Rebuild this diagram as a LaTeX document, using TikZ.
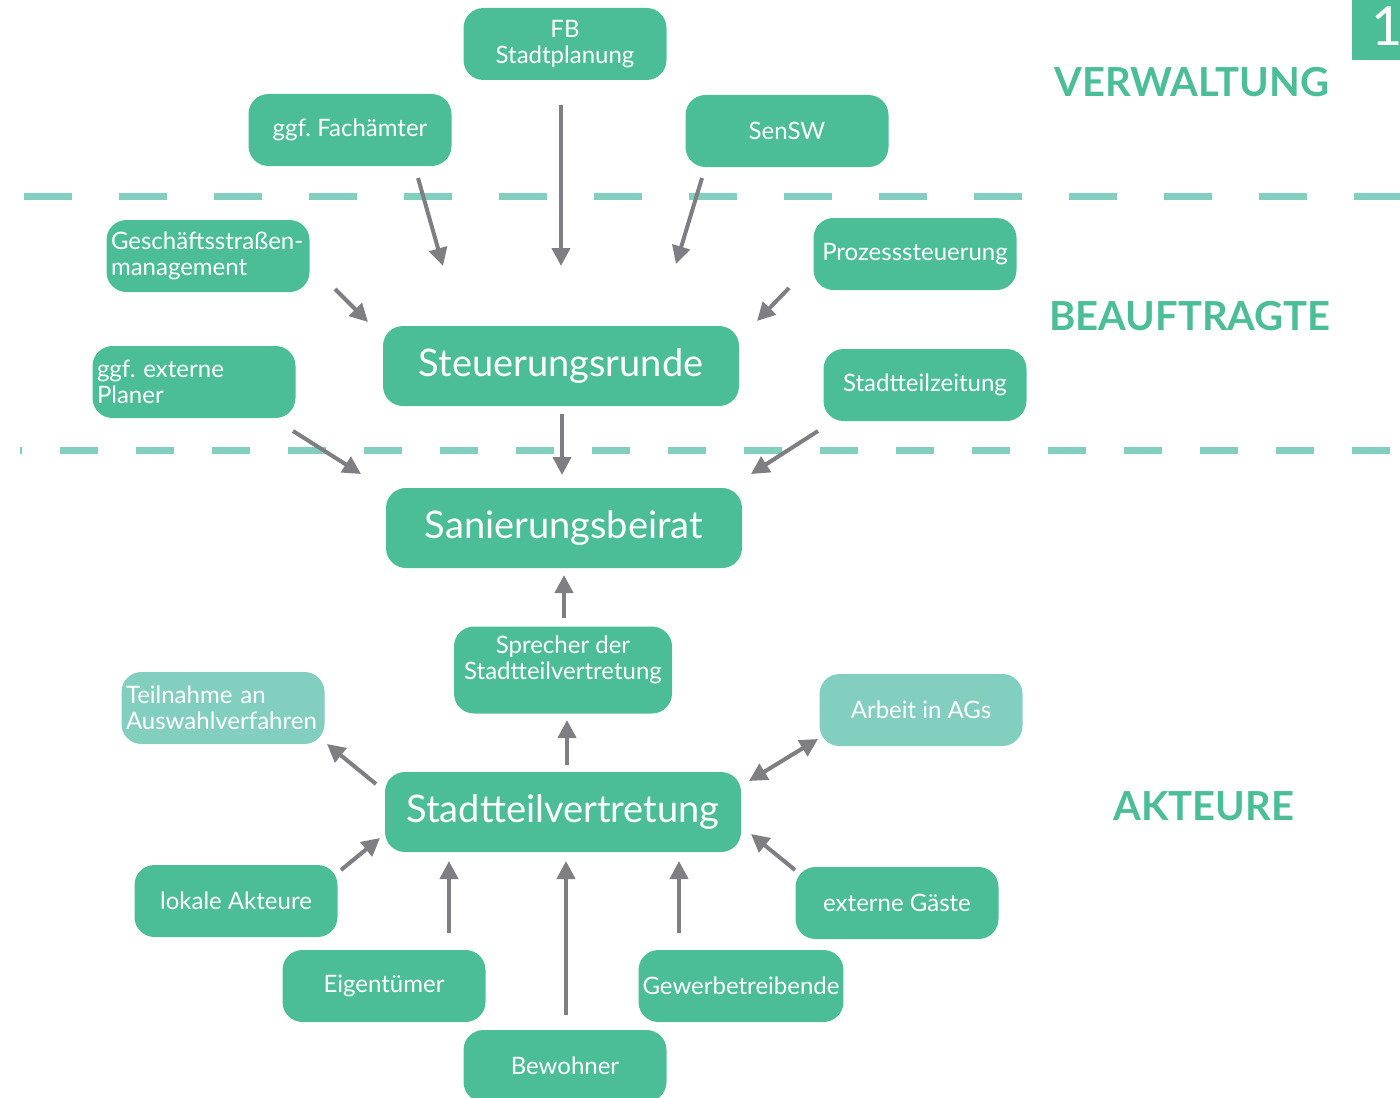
\documentclass[tikz,border=0pt]{standalone}
\usepackage{fontspec}
\setmainfont{Lato}
\usetikzlibrary{arrows.meta}
\definecolor{gruen}{HTML}{4BBE98}
\definecolor{hellgruen}{HTML}{83CFBF}
\definecolor{grau}{HTML}{7F7F83}
\definecolor{strich}{HTML}{82CFC0}
\frenchspacing
\begin{document}
\begin{tikzpicture}[x=0.5pt, y=-0.5pt,
box/.style={fill=gruen, rounded corners=10pt, text=white, minimum width=101.5pt,
  minimum height=36pt, inner sep=2pt, align=center,
  font=\fontsize{12}{13}\selectfont},
linksbox/.style={box, text width=97pt, align=left},
hellbox/.style={box, fill=hellgruen},
grossbox/.style={box, minimum width=178pt, minimum height=40pt,
  font=\fontsize{19}{20}\selectfont},
pfeil/.style={draw=grau, line width=2pt, -{Triangle[length=9pt,width=9pt]}},
ebene/.style={text=gruen, font=\bfseries\fontsize{20}{22}\selectfont},
linie/.style={draw=strich, line width=3.5pt},
]
\useasboundingbox (0,0) rectangle (1400,1097);
% Trennlinien
\draw[linie, dash pattern=on 24pt off 23.5pt] (24,196) -- (1400,196);
\draw[linie, dash pattern=on 19pt off 19pt, dash phase=18pt] (20,450) -- (1400,450);
% Reiter
\fill[gruen] (1352,0) rectangle (1420,60);
\node[text=white, anchor=west, font=\fontsize{27}{27}\selectfont] (seite) at (1364,26) {11};
% Ebenen
\node[ebene] (verw) at (1192,82) {VERWALTUNG};
\node[ebene] (beauf) at (1190,316) {BEAUFTRAGTE};
\node[ebene] (akt) at (1204,806) {AKTEURE};
% Verwaltung
\node[box] (fb) at (565,44) {FB\\Stadtplanung};
\node[box] (fach) at (350,130) {ggf. Fachämter};
\node[box] (sensw) at (787,131) {SenSW};
% Beauftragte
\node[linksbox] (gsm) at (208,256) {Geschäftsstraßen-\\management};
\node[box] (proz) at (915,254) {Prozesssteuerung};
\node[grossbox] (steu) at (561,366) {Steuerungsrunde};
\node[linksbox] (plan) at (194,382) {ggf. externe\\Planer};
\node[box] (zeit) at (925,385) {Stadtteilzeitung};
% Akteure
\node[grossbox] (sani) at (564,528) {Sanierungsbeirat};
\node[box, minimum width=109pt, minimum height=43.5pt] (spr) at (563,670) {};
\node[text=white, align=center, font=\fontsize{12}{13}\selectfont] (sprtext) at (563,660) {Sprecher der\\Stadtteilvertretung};
\node[hellbox, text width=97pt, align=left] (teil) at (223,708) {Teilnahme an\\Auswahlverfahren};
\node[hellbox] (ags) at (921,710) {Arbeit in AGs};
\node[grossbox] (stv) at (563,812) {Stadtteilvertretung};
\node[box] (lok) at (236,901) {lokale Akteure};
\node[box] (gast) at (897,903) {externe Gäste};
\node[box] (eig) at (384,986) {Eigentümer};
\node[box] (gew) at (741,986) {Gewerbetreibende};
\node[box] (bew) at (565,1066) {Bewohner};
% Pfeile
\foreach \n/\xa/\ya/\xb/\yb in {fach/418/178/443/266, fb/561/105/561/266,
  sensw/702/178/676/264, gsm/335/289/368/322, proz/789/288/757/321,
  steu/562/414/562/475, plan/293/431/361/474, zeit/818/431/751/474,
  spr/564/618/564/575, stv/567/765/567/720, teil/376/784/327/744,
  lok/341/870/380/838, eig/449/933/449/861, bew/566/1015/566/861,
  gew/679/933/679/861, gast/795/870/751/834}
{
  \coordinate (\n-von) at (\xa,\ya);
  \coordinate (\n-zu) at (\xb,\yb);
  \draw[pfeil] (\n-von) -- (\n-zu);
}
\coordinate (ags-von) at (749,781);
\coordinate (ags-zu) at (818,739);
\draw[pfeil, {Triangle[length=9pt,width=9pt]}-{Triangle[length=9pt,width=9pt]}] (ags-von) -- (ags-zu);
\end{tikzpicture}
\end{document}
